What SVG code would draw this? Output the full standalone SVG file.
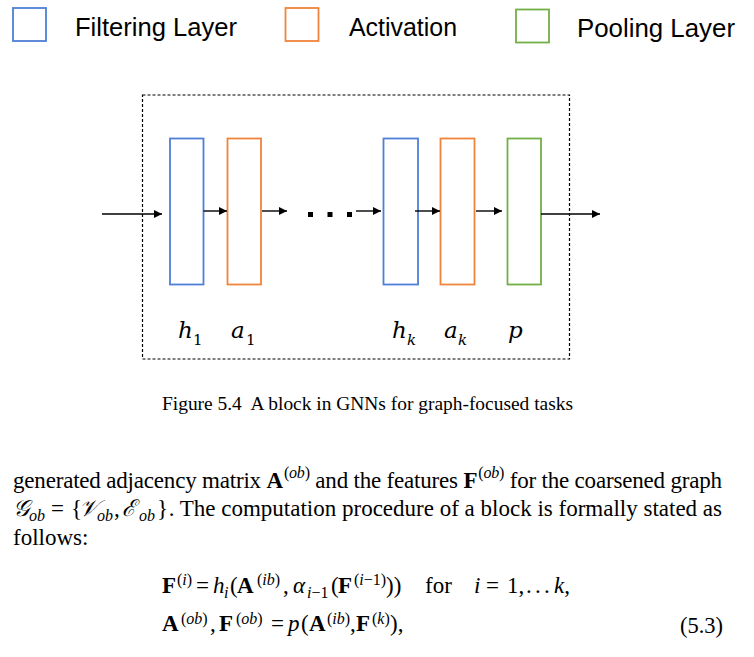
<svg xmlns="http://www.w3.org/2000/svg" width="754" height="657" viewBox="0 0 754 657">
<style>
.leg{font-family:"Liberation Sans",Arial,sans-serif;font-size:25px;fill:#000}
.lbl{font-family:"DejaVu Serif","Liberation Serif",serif;font-style:italic;font-size:23px;fill:#000}
.sub{font-family:"DejaVu Serif","Liberation Serif",serif;font-size:15px;fill:#000}
.subi{font-family:"DejaVu Serif","Liberation Serif",serif;font-style:italic;font-size:15px;fill:#000}
.tx{font-family:"Liberation Serif","Times New Roman",serif;font-size:23px;fill:#000}
.cap{font-family:"Liberation Serif","Times New Roman",serif;font-size:18px;fill:#000}
.b{font-weight:bold}
.i{font-style:italic}
.sm{font-size:16px}
.blue{fill:#fff;stroke:#4F7FD6;stroke-width:1.8}
.orange{fill:#fff;stroke:#F0843A;stroke-width:1.8}
.green{fill:#fff;stroke:#72B046;stroke-width:1.8}
.conn line{stroke:#000;stroke-width:1.4;marker-end:url(#ah)}
</style>
<defs>
<marker id="ah" markerUnits="userSpaceOnUse" markerWidth="9" markerHeight="9" refX="8" refY="4" orient="auto">
<path d="M0,0 L8,4 L0,8 z" fill="#000"/>
</marker>
</defs>
<rect width="754" height="657" fill="#fff"/>

<g id="legend">
<rect class="blue" x="13" y="8" width="33" height="33"/>
<text class="leg" x="75" y="36" textLength="162" lengthAdjust="spacingAndGlyphs">Filtering Layer</text>
<rect class="orange" x="285.5" y="8" width="33" height="33"/>
<text class="leg" x="349" y="36" textLength="108" lengthAdjust="spacingAndGlyphs">Activation</text>
<rect class="green" x="516" y="9.5" width="33" height="33"/>
<text class="leg" x="577" y="37" textLength="158" lengthAdjust="spacingAndGlyphs">Pooling Layer</text>
</g>

<g id="block">
<rect x="142.5" y="95" width="427" height="264" fill="none" stroke="#000" stroke-width="1.2" stroke-dasharray="3,2"/>
</g>

<g id="h1"><rect class="blue" x="170" y="138.5" width="33.5" height="146"/>
<text class="lbl" x="178" y="338">h</text><text class="sub" x="193" y="345">1</text></g>
<g id="a1"><rect class="orange" x="227.5" y="138.5" width="33.5" height="146"/>
<text class="lbl" x="231" y="338">a</text><text class="sub" x="246" y="345">1</text></g>
<g id="hk"><rect class="blue" x="383.5" y="138.5" width="34.5" height="146"/>
<text class="lbl" x="392" y="338">h</text><text class="subi" x="407" y="345">k</text></g>
<g id="ak"><rect class="orange" x="440.5" y="138.5" width="34" height="146"/>
<text class="lbl" x="444" y="338">a</text><text class="subi" x="458" y="345">k</text></g>
<g id="p"><rect class="green" x="507.5" y="138.5" width="33.5" height="146"/>
<text class="lbl" x="508" y="338">p</text></g>

<g id="ellipsis">
<rect x="308" y="212" width="5" height="5" fill="#000"/>
<rect x="327.5" y="212" width="5" height="5" fill="#000"/>
<rect x="347" y="212" width="5" height="5" fill="#000"/>
</g>

<g id="connectors" class="conn">
<line x1="102" y1="214" x2="162" y2="214"/>
<line x1="203.5" y1="211" x2="227" y2="211"/>
<line x1="262" y1="211" x2="287" y2="211"/>
<line x1="356" y1="211" x2="381" y2="211"/>
<line x1="415" y1="211" x2="440" y2="211"/>
<line x1="476" y1="211" x2="502" y2="211"/>
<line x1="541" y1="214" x2="600" y2="214"/>
</g>

<g id="caption">
<text class="cap" x="162" y="410" textLength="411" lengthAdjust="spacingAndGlyphs" xml:space="preserve">Figure 5.4  A block in GNNs for graph-focused tasks</text>
</g>

<g id="paragraph">
<text class="tx" x="13" y="488" textLength="709" lengthAdjust="spacing" xml:space="preserve">generated adjacency matrix <tspan class="b">A</tspan><tspan class="sm" dx="1" dy="-10">(<tspan class="i">ob</tspan>)</tspan><tspan dy="10"> and the features </tspan><tspan class="b">F</tspan><tspan class="sm" dx="1" dy="-10">(<tspan class="i">ob</tspan>)</tspan><tspan dy="10"> for the coarsened graph</tspan></text>

<text class="tx i" x="13" y="516">𝒢</text>
<text class="tx i sm" x="29" y="521">ob</text>
<text class="tx" x="51" y="516">=</text>
<text class="tx" x="71" y="516">{</text>
<text class="tx i" x="79" y="516">𝒱</text>
<text class="tx i sm" x="97" y="521">ob</text>
<text class="tx" x="114" y="516">,</text>
<text class="tx i" x="122" y="516">ℰ</text>
<text class="tx i sm" x="139" y="521">ob</text>
<text class="tx" x="157" y="516">}</text>
<text class="tx" x="722" y="516" text-anchor="end">. The computation procedure of a block is formally stated as</text>

<text class="tx" x="13" y="545">follows:</text>
</g>

<g id="equation">
<text class="tx b" x="162" y="593">F</text>
<text class="tx sm" x="177" y="585">(<tspan class="i">i</tspan>)</text>
<text class="tx" x="196" y="593">=</text>
<text class="tx i" x="213" y="593">h</text>
<text class="tx i sm" x="224" y="598">i</text>
<text class="tx" x="230" y="593">(</text>
<text class="tx b" x="237" y="593">A</text>
<text class="tx sm" x="257" y="585">(<tspan class="i">ib</tspan>)</text>
<text class="tx" x="283" y="593">,</text>
<text class="tx i" x="293" y="593">α</text>
<text class="tx sm" x="307" y="598"><tspan class="i">i</tspan>−1</text>
<text class="tx" x="331" y="593">(</text>
<text class="tx b" x="338" y="593">F</text>
<text class="tx sm" x="354" y="585">(<tspan class="i">i</tspan>−1)</text>
<text class="tx" x="386" y="593">))</text>
<text class="tx" x="425" y="593">for</text>
<text class="tx i" x="474" y="593">i</text>
<text class="tx" x="486" y="593">=</text>
<text class="tx" x="507" y="593">1,</text>
<text class="tx" x="526" y="593">.</text>
<text class="tx" x="535" y="593">.</text>
<text class="tx" x="544" y="593">.</text>
<text class="tx" x="554" y="593"><tspan class="i">k</tspan>,</text>

<text class="tx b" x="162" y="631">A</text>
<text class="tx sm" x="181" y="624">(<tspan class="i">ob</tspan>)</text>
<text class="tx" x="210" y="631">,</text>
<text class="tx b" x="219" y="631">F</text>
<text class="tx sm" x="236" y="624">(<tspan class="i">ob</tspan>)</text>
<text class="tx" x="271" y="631">=</text>
<text class="tx i" x="288" y="631">p</text>
<text class="tx" x="301" y="631">(</text>
<text class="tx b" x="309" y="631">A</text>
<text class="tx sm" x="327" y="624">(<tspan class="i">ib</tspan>)</text>
<text class="tx" x="350" y="631">,</text>
<text class="tx b" x="356" y="631">F</text>
<text class="tx sm" x="372" y="624">(<tspan class="i">k</tspan>)</text>
<text class="tx" x="390" y="631">),</text>
<text class="tx" x="680" y="633" textLength="43" lengthAdjust="spacingAndGlyphs">(5.3)</text>
</g>
</svg>
